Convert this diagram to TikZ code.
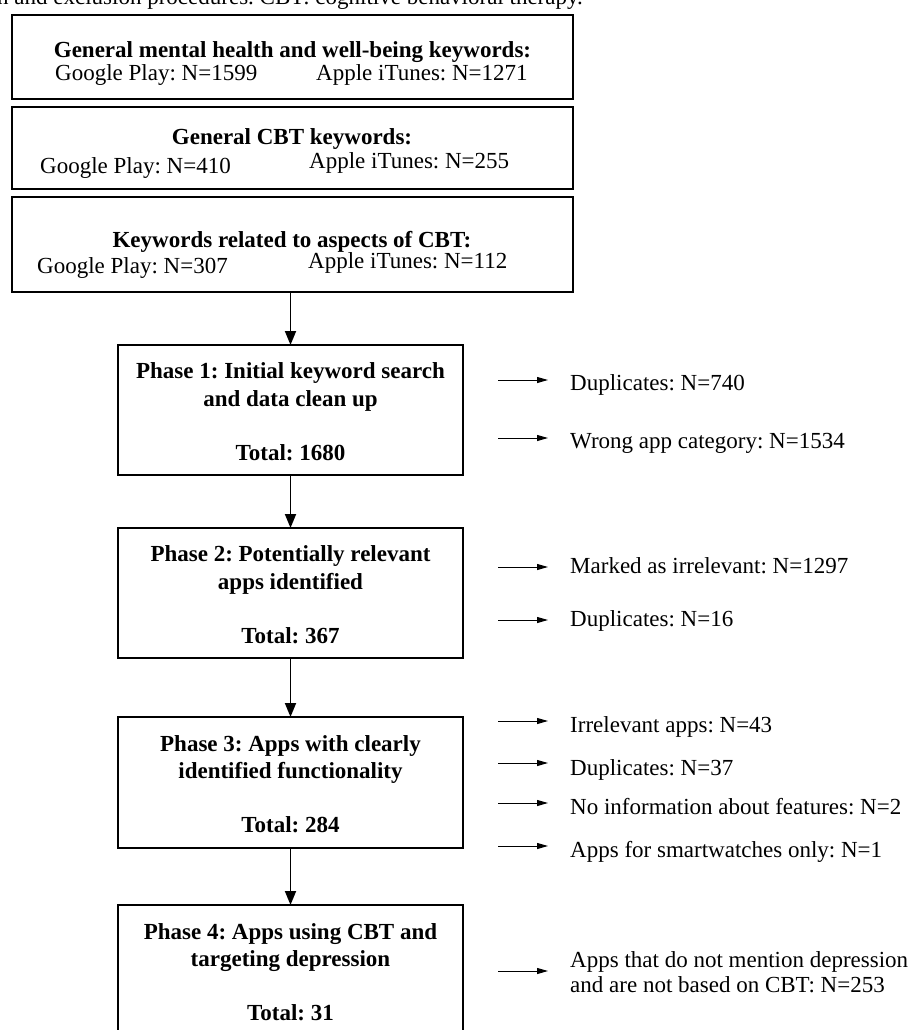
\documentclass[tikz,border=0pt]{standalone}
\usepackage{fontspec}
\setmainfont{Liberation Serif}
\usetikzlibrary{arrows.meta}
\frenchspacing
\begin{document}
\begin{tikzpicture}[x=1pt,y=-1pt,
  box/.style={draw, line width=1.8pt, inner sep=0pt, outer sep=0pt},
  bt/.style={font=\fontsize{23}{28}\selectfont\bfseries, inner sep=0pt, anchor=base},
  rt/.style={font=\fontsize{23}{28}\selectfont, inner sep=0pt, anchor=base west},
  marr/.style={line width=1.8pt, -{Triangle[length=14pt,width=11pt]}},
  sarr/.style={line width=1pt, -{Triangle[length=11pt,width=6pt]}, shorten >=22pt}]
\useasboundingbox (0,0) rectangle (912,1030);
\clip (0,0) rectangle (912,1030);

% cut caption line
\node[rt] (cap) at (-3,5) {n and exclusion procedures. CBT: cognitive behavioral therapy.};

% keyword boxes
\node[box, minimum width=561pt, minimum height=84pt] (k1) at (292.5,57) {};
\node[bt] (k1t) at (292.5,57.6) {General mental health and well-being keywords:};
\node[rt] (k1g) at (55,80.6) {Google Play: N=1599};
\node[rt] (k1a) at (316,80.6) {Apple iTunes: N=1271};

\node[box, minimum width=561pt, minimum height=82pt] (k2) at (292.5,148) {};
\node[bt] (k2t) at (292,144) {General CBT keywords:};
\node[rt] (k2g) at (40,173.6) {Google Play: N=410};
\node[rt] (k2a) at (309,168.6) {Apple iTunes: N=255};

\node[box, minimum width=561pt, minimum height=95pt] (k3) at (292.5,244.5) {};
\node[bt] (k3t) at (292,247) {Keywords related to aspects of CBT:};
\node[rt] (k3g) at (37,273) {Google Play: N=307};
\node[rt] (k3a) at (308,268) {Apple iTunes: N=112};

% phase boxes
\node[box, minimum width=345pt, minimum height=130pt] (p1) at (290.5,410) {};
\node[bt] (p1a) at (290.5,378.5) {Phase 1: Initial keyword search};
\node[bt] (p1b) at (290.5,406) {and data clean up};
\node[bt] (p1c) at (290.5,460) {Total: 1680};

\node[box, minimum width=345pt, minimum height=130pt] (p2) at (290.5,593) {};
\node[bt] (p2a) at (290.5,561.5) {Phase 2: Potentially relevant};
\node[bt] (p2b) at (290.5,589) {apps identified};
\node[bt] (p2c) at (290.5,643) {Total: 367};

\node[box, minimum width=345pt, minimum height=131pt] (p3) at (290.5,782.5) {};
\node[bt] (p3a) at (290.5,751) {Phase 3: Apps with clearly};
\node[bt] (p3b) at (290.5,778.5) {identified functionality};
\node[bt] (p3c) at (290.5,832) {Total: 284};

\node[box, minimum width=345pt, minimum height=135pt] (p4) at (290.5,972.5) {};
\node[bt] (p4a) at (290.5,939) {Phase 4: Apps using CBT and};
\node[bt] (p4b) at (290.5,966.5) {targeting depression};
\node[bt] (p4c) at (290.5,1020) {Total: 31};

% main arrows
\draw[marr] (p1.north |- k3.south) -- (p1.north);
\draw[marr] (p1.south) -- (p2.north);
\draw[marr] (p2.south) -- (p3.north);
\draw[marr] (p3.south) -- (p4.north);

% side texts
\node[rt] (s11) at (570,390) {Duplicates: N=740};
\node[rt] (s12) at (570,448) {Wrong app category: N=1534};
\node[rt] (s21) at (570,573) {Marked as irrelevant: N=1297};
\node[rt] (s22) at (570,626) {Duplicates: N=16};
\node[rt] (s31) at (570,732) {Irrelevant apps: N=43};
\node[rt] (s32) at (570,775) {Duplicates: N=37};
\node[rt] (s33) at (570,814) {No information about features: N=2};
\node[rt] (s34) at (570,857) {Apps for smartwatches only: N=1};
\node[rt] (s41) at (570,967) {Apps that do not mention depression};
\node[rt] (s42) at (570,992) {and are not based on CBT: N=253};

% side arrows
\coordinate (c11) at (498,380);
\coordinate (c12) at (498,438);
\coordinate (c21) at (498,567);
\coordinate (c22) at (498,620);
\coordinate (c31) at (498,721);
\coordinate (c32) at (498,763);
\coordinate (c33) at (498,803);
\coordinate (c34) at (498,846);
\coordinate (c41) at (498,971);
\foreach \c/\t in {c11/s11,c12/s12,c21/s21,c22/s22,c31/s31,c32/s32,c33/s33,c34/s34,c41/s41}
  \draw[sarr] (\c) -- (\c -| \t.west);
\end{tikzpicture}
\end{document}
